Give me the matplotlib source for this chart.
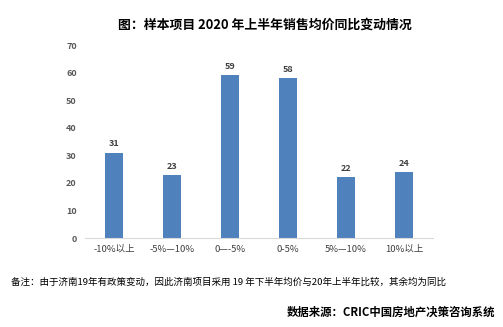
import matplotlib
matplotlib.use("Agg")
import matplotlib.pyplot as plt

plt.rcParams['font.family'] = ['Noto Sans CJK SC', 'DejaVu Sans']

categories = ["-10%以上", "-5%—10%", "0—-5%", "0-5%", "5%—10%", "10%以上"]
values = [31, 23, 59, 58, 22, 24]
yticks = [0, 10, 20, 30, 40, 50, 60, 70]

fig = plt.figure(figsize=(5.03, 3.27), dpi=100)
ax = fig.add_axes([0.169, 0.272, 0.692, 0.590])

x = list(range(len(categories)))
bars = ax.bar(x, values, width=0.31, color="#4F81BD")
for xi, v in zip(x, values):
    ax.text(xi, v + 1.5, str(v), ha="center", va="bottom", fontsize=6.5,
            fontweight="bold", color="#404040")

ax.set_xlim(-0.5, len(categories) - 0.5)
ax.set_ylim(0, 70)
ax.set_yticks(yticks)
ax.set_xticks(x)
ax.set_xticklabels(categories, fontsize=6.8, color="#404040")
ax.tick_params(axis="y", labelsize=6.5, labelcolor="#595959", length=0, pad=6)
ax.tick_params(axis="x", length=0, pad=5)
for lbl in ax.get_yticklabels():
    lbl.set_fontweight("bold")
for s in ["top", "right", "left"]:
    ax.spines[s].set_visible(False)
ax.spines["bottom"].set_color("#D9D9D9")
ax.spines["bottom"].set_linewidth(0.8)

fig.text(0.527, 0.925, "图：样本项目 2020 年上半年销售均价同比变动情况", ha="center", va="center",
         fontsize=9.3, fontweight="bold", color="#000000")
fig.text(0.022, 0.138, "备注：由于济南19年有政策变动，因此济南项目采用 19 年下半年均价与20年上半年比较，其余均为同比",
         ha="left", va="center", fontsize=6.85, color="#000000")
fig.text(0.985, 0.046, "数据来源：CRIC中国房地产决策咨询系统", ha="right", va="center",
         fontsize=8.2, fontweight="bold", color="#000000")

fig.savefig("out.png", dpi=100)
